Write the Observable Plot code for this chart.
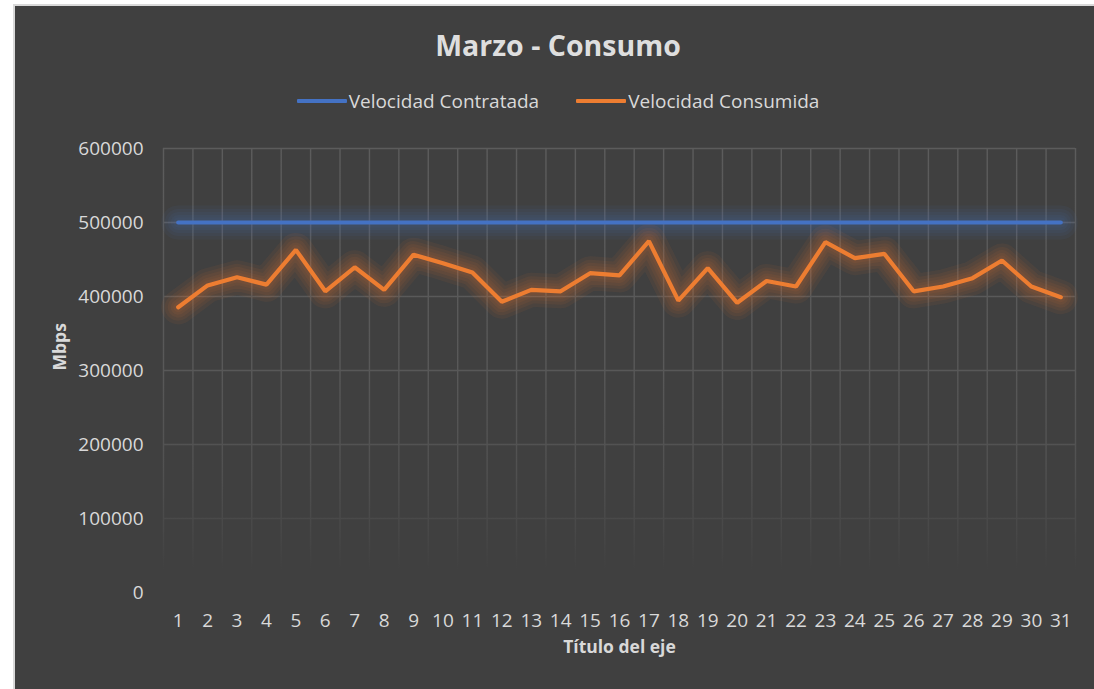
<!DOCTYPE html>
<html>
<head>
<meta charset="utf-8">
<script src="https://cdn.jsdelivr.net/npm/d3@7"></script>
<script src="https://cdn.jsdelivr.net/npm/@observablehq/plot@0.6"></script>
<style>
  html, body { margin: 0; padding: 0; background: #ffffff; overflow: hidden; width: 1094px; height: 689px; }
  #panel {
    position: absolute; left: 13px; top: 4px;
    width: 1086px; height: 700px;
    background: #404040;
    border-left: 2px solid #d9d9d9; border-top: 2px solid #d9d9d9;
    font-family: "Open Sans", sans-serif; color: #d9d9d9;
  }
  #title {
    position: absolute; left: 0; width: 100%; top: 21px; height: 36px; line-height: 36px;
    text-align: center; font-weight: bold; font-size: 28.5px; color: #dedede;
  }
  #legend {
    position: absolute; left: 0; width: 100%; top: 83px; height: 24px; line-height: 24px;
    display: flex; justify-content: center; align-items: center; gap: 37px; font-size: 19px;
  }
  .item { display: flex; align-items: center; }
  .sw { width: 50px; height: 4px; margin-right: 2px; border-radius: 1px; }
  #chart { position: absolute; left: 0; top: 114px; }
</style>
</head>
<body>
<div id="panel">
  <div id="title"></div>
  <div id="legend"></div>
  <div id="chart"></div>
</div>
<script>
const titleText = "Marzo - Consumo";
const seriesNames = ["Velocidad Contratada", "Velocidad Consumida"];
const seriesColors = ["#4472C4", "#ED7D31"];
const xTitle = "Título del eje";
const yTitle = "Mbps";

const days = [1,2,3,4,5,6,7,8,9,10,11,12,13,14,15,16,17,18,19,20,21,22,23,24,25,26,27,28,29,30,31];
const contratada = [500000,500000,500000,500000,500000,500000,500000,500000,500000,500000,500000,500000,500000,500000,500000,500000,500000,500000,500000,500000,500000,500000,500000,500000,500000,500000,500000,500000,500000,500000,500000];
const consumida = [385500,415000,426000,416000,463000,407000,439500,409000,456500,445000,432500,393000,409000,407000,431500,428500,474800,394500,438300,391500,421000,413500,473500,451800,457700,407000,413500,424800,448600,413500,399100];
const yTicks = [0,100000,200000,300000,400000,500000,600000];

document.getElementById("title").textContent = titleText;
const legend = d3.select("#legend");
seriesNames.forEach((n, i) => {
  const it = legend.append("div").attr("class", "item");
  it.append("div").attr("class", "sw").style("background", seriesColors[i]);
  it.append("span").text(n);
});

const rows = [];
days.forEach((d, i) => {
  rows.push({day: d, value: contratada[i], serie: seriesNames[0]});
  rows.push({day: d, value: consumida[i], serie: seriesNames[1]});
});
const boundaries = days.map(d => d - 0.5).concat([days[days.length - 1] + 0.5]);

const glowLayers = [34, 27, 21, 15, 10];
const glowMarks = glowLayers.map(w =>
  Plot.line(rows, {x: "day", y: "value", z: "serie", stroke: "serie", strokeWidth: w, strokeOpacity: 0.065, strokeLinejoin: "round", strokeLinecap: "round"})
);

const W = 1079, H = 575;
const chart = Plot.plot({
  width: W, height: H,
  marginLeft: 148, marginRight: 19, marginTop: 28, marginBottom: 103,
  style: {background: "transparent", color: "#d9d9d9", fontFamily: "Open Sans, sans-serif", fontSize: "19px"},
  x: {type: "linear", domain: [0.5, 31.5], ticks: days, tickFormat: d => String(d), tickSize: 0, tickPadding: 21, label: null},
  y: {domain: [0, 600000], ticks: yTicks, tickFormat: d => String(d), tickSize: 0, tickPadding: 20, label: null},
  color: {domain: seriesNames, range: seriesColors},
  marks: [
    Plot.ruleY(yTicks.filter(v => v > 0), {stroke: "url(#gridgrad)", strokeWidth: 1.4}),
    Plot.ruleX(boundaries, {stroke: "url(#gridgrad)", strokeWidth: 1.4}),
    ...glowMarks,
    Plot.line(rows, {x: "day", y: "value", z: "serie", stroke: "serie", strokeWidth: 4.2, strokeLinejoin: "miter", strokeLinecap: "round"}),
    Plot.text([xTitle], {text: d => d, frameAnchor: "bottom", dy: 60, fontWeight: "bold", fontSize: 17.5, fill: "#d9d9d9"}),
    Plot.text([yTitle], {text: d => d, frameAnchor: "left", dx: -103, rotate: -90, fontWeight: "bold", fontSize: 17.5, fill: "#d9d9d9"})
  ]
});

const ys = chart.scale("y");
const yTop = ys.apply(600000), yBot = ys.apply(0);
const svg = d3.select(chart);
const defs = svg.insert("defs", ":first-child");
const grad = defs.append("linearGradient").attr("id", "gridgrad")
  .attr("gradientUnits", "userSpaceOnUse")
  .attr("x1", 0).attr("x2", 0).attr("y1", yTop).attr("y2", yBot);
[[0, "#5c5c5c"], [0.5, "#585858"], [0.72, "#515151"], [0.86, "#484848"], [0.95, "#404040"], [1, "#404040"]]
  .forEach(([o, c]) => grad.append("stop").attr("offset", o).attr("stop-color", c));

document.getElementById("chart").appendChild(chart);
</script>
</body>
</html>
